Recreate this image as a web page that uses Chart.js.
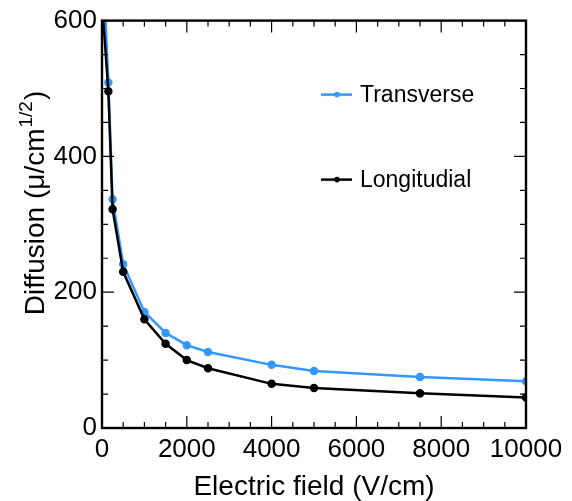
<!DOCTYPE html>
<html>
<head>
<meta charset="utf-8">
<script src="https://cdn.jsdelivr.net/npm/chart.js@4.4.0/dist/chart.umd.min.js"></script>
<style>
    html, body { margin: 0; padding: 0; background: #fff; }
    #wrap { width: 572px; height: 501px; }
</style>
</head>
<body>
<div id="wrap"><canvas id="diffChart" width="572" height="501"></canvas></div>
<script>
// Data
const fieldValues = [20, 150, 250, 500, 1000, 1500, 2000, 2500, 4000, 5000, 7500, 10000];
const transverse = [690, 509, 337, 241, 171, 140, 122, 112, 93, 84, 75, 69];
const longitudinal = [610, 496, 322, 230, 160, 124, 100, 88, 65, 59, 51, 45];
const seriesLabels = ['Transverse', 'Longitudial'];
const xTicks = [0, 2000, 4000, 6000, 8000, 10000];
const yTicks = [0, 200, 400, 600];

const FONT = '"Liberation Sans", Arial, Helvetica, sans-serif';
const COLORS = { transverse: '#3399ff', longitudinal: '#000000' };

function toPoints(xs, ys) {
    return xs.map((x, i) => ({ x: x, y: ys[i] }));
}

// Frame with inward major/minor ticks on all four sides (ROOT style)
const framePlugin = {
    id: 'frame',
    afterDraw(chart) {
        const { ctx, chartArea: a, scales } = chart;
        const xs = scales.x, ys = scales.y;
        ctx.save();
        ctx.strokeStyle = '#000';
        ctx.lineWidth = 1.2;
        ctx.beginPath();
        for (let v = xs.min; v <= xs.max; v += 500) {
            const px = xs.getPixelForValue(v);
            const len = v % 2000 === 0 ? 12 : 6;
            ctx.moveTo(px, a.bottom); ctx.lineTo(px, a.bottom - len);
            ctx.moveTo(px, a.top); ctx.lineTo(px, a.top + len);
        }
        for (let v = ys.min; v <= ys.max; v += 50) {
            const py = ys.getPixelForValue(v);
            const len = v % 200 === 0 ? 12 : 6;
            ctx.moveTo(a.left, py); ctx.lineTo(a.left + len, py);
            ctx.moveTo(a.right, py); ctx.lineTo(a.right - len, py);
        }
        ctx.stroke();
        ctx.lineWidth = 2.4;
        ctx.strokeRect(a.left, a.top, a.right - a.left, a.bottom - a.top);
        ctx.restore();
    }
};

// Y title with superscript, and a legend drawn inside the frame
const textPlugin = {
    id: 'texts',
    afterDraw(chart) {
        const { ctx, chartArea: a } = chart;
        ctx.save();
        // y-axis title
        ctx.translate(44, 204);
        ctx.rotate(-Math.PI / 2);
        const big = '28px ' + FONT, small = '19px ' + FONT;
        const p1 = 'Diffusion (\u03bc/cm', p2 = '1/2', p3 = ')';
        ctx.font = big; const w1 = ctx.measureText(p1).width, w3 = ctx.measureText(p3).width;
        ctx.font = small; const w2 = ctx.measureText(p2).width;
        let x = -(w1 + w2 + w3) / 2;
        ctx.fillStyle = '#000';
        ctx.textBaseline = 'alphabetic';
        ctx.font = big; ctx.fillText(p1, x, 0); x += w1;
        ctx.font = small; ctx.fillText(p2, x + 1, -12); x += w2 + 2;
        ctx.font = big; ctx.fillText(p3, x, 0);
        ctx.restore();

        // legend
        ctx.save();
        const rows = [a.top + 74, a.top + 159];
        chart.data.datasets.forEach((ds, i) => {
            const y = rows[i];
            const x0 = a.left + 219;
            ctx.strokeStyle = ds.borderColor;
            ctx.lineWidth = 2.5;
            ctx.beginPath(); ctx.moveTo(x0, y); ctx.lineTo(x0 + 31, y); ctx.stroke();
            ctx.fillStyle = ds.borderColor;
            ctx.beginPath(); ctx.arc(x0 + 16, y, 2.8, 0, Math.PI * 2); ctx.fill();
            ctx.fillStyle = '#000';
            ctx.font = '23px ' + FONT;
            ctx.textBaseline = 'middle';
            ctx.fillText(ds.label, x0 + 39, y + 1);
        });
        ctx.restore();
    }
};

new Chart(document.getElementById('diffChart').getContext('2d'), {
    type: 'scatter',
    data: {
        datasets: [
            {
                label: seriesLabels[0],
                data: toPoints(fieldValues, transverse),
                borderColor: COLORS.transverse,
                backgroundColor: COLORS.transverse,
                showLine: true,
                borderWidth: 2.5,
                pointRadius: 3,
                order: 1,
                clip: 0
            },
            {
                label: seriesLabels[1],
                data: toPoints(fieldValues, longitudinal),
                borderColor: COLORS.longitudinal,
                backgroundColor: COLORS.longitudinal,
                showLine: true,
                borderWidth: 2.5,
                pointRadius: 3,
                order: 0,
                clip: 0
            }
        ]
    },
    options: {
        responsive: false,
        animation: false,
        layout: { padding: { left: 0, right: 46, top: 18, bottom: 0 } },
        plugins: {
            legend: { display: false },
            tooltip: { enabled: false }
        },
        scales: {
            x: {
                type: 'linear',
                min: 0,
                max: 10000,
                afterFit: s => { s.height = 73; },
                afterBuildTicks: s => { s.ticks = xTicks.map(v => ({ value: v })); },
                grid: { display: false, drawTicks: false },
                border: { display: false },
                ticks: {
                    padding: 6,
                    color: '#000',
                    font: { family: FONT, size: 26 },
                    maxRotation: 0,
                    callback: v => String(v)
                },
                title: {
                    display: true,
                    text: 'Electric field (V/cm)',
                    color: '#000',
                    font: { family: FONT, size: 28 },
                    padding: { top: 12, bottom: -3 }
                }
            },
            y: {
                type: 'linear',
                min: 0,
                max: 600,
                afterFit: s => { s.width = 102; },
                afterBuildTicks: s => { s.ticks = yTicks.map(v => ({ value: v })); },
                grid: { display: false, drawTicks: false },
                border: { display: false },
                ticks: {
                    padding: 5,
                    color: '#000',
                    font: { family: FONT, size: 26 },
                    callback: v => String(v)
                }
            }
        }
    },
    plugins: [framePlugin, textPlugin]
});
</script>
</body>
</html>
